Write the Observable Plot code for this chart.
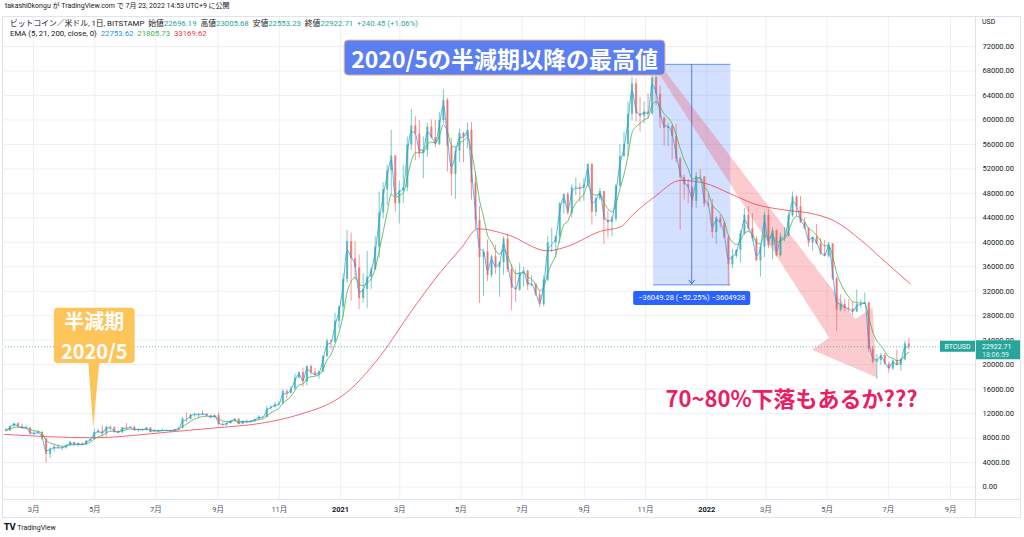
<!DOCTYPE html>
<html lang="ja">
<head>
<meta charset="utf-8">
<script src="https://cdn.jsdelivr.net/npm/d3@7"></script>
<script src="https://cdn.jsdelivr.net/npm/@observablehq/plot@0.6"></script>
<style>
html,body{margin:0;padding:0;background:#fff;}
body{font-family:Roboto,"Noto Sans CJK JP","Noto Sans",sans-serif;color:#131722;}
#wrap{position:relative;width:1024px;height:537px;overflow:hidden;background:#fff;}
#chart{position:absolute;left:0;top:0;width:1024px;height:537px;}
.ov{position:absolute;white-space:nowrap;line-height:1;}
.ln{position:absolute;background:#e0e3eb;}
</style>
</head>
<body>
<div id="wrap">
  <div id="chart"></div>
  <div class="ln" style="left:2px;top:16px;width:1019px;height:1px"></div>
  <div class="ln" style="left:2px;top:16px;width:1px;height:502px"></div>
  <div class="ln" style="left:1020px;top:16px;width:1px;height:502px"></div>
  <div class="ln" style="left:2px;top:517px;width:1019px;height:1px"></div>
  <div class="ln" style="left:975px;top:16px;width:1px;height:502px"></div>
  <div class="ln" style="left:2px;top:499px;width:1019px;height:1px"></div>
  <div class="ov" style="left:5px;top:3px;font-size:7px;">takashi0kongu が TradingView.com で 7月 23, 2022 14:53 UTC+9 に公開</div>
  <div class="ov" id="leg1" style="left:10px;top:20px;font-size:7.8px;"></div>
  <div class="ov" id="leg2" style="left:10px;top:30px;font-size:7.8px;"></div>
  <div class="ov" style="left:982px;top:19px;font-size:7px;color:#131722">USD</div>
  <div class="ov" style="left:4px;top:524px;font-size:7px;"><b style="font-family:'DejaVu Sans';font-weight:900;font-size:8px">TV</b> TradingView</div>
</div>
<script>
// ---------------- data (prices in thousand USD) ----------------
const startDate = "2020-02-01";
const stepDays = 4;
const firstOpen = 9.35;
const closes = [
  9.16, 9.9, 10.35, 9.9, 9.6, 9.65, 8.7, 8.75, 8.9, 7.9,
  5.36, 6.2, 6.5, 6.37, 6.42, 6.73, 7.3, 6.9, 7.1, 6.85,
  7.5, 7.78, 8.9, 9.15, 8.75, 9.8, 9.7, 9.05, 8.85, 9.7,
  9.65, 9.75, 9.3, 9.4, 9.3, 9.62, 9.0, 9.23, 9.07, 9.25,
  9.25, 9.15, 9.38, 9.55, 11.1, 11.05, 11.75, 11.9, 11.8, 11.95,
  11.7, 11.35, 11.7, 10.2, 10.15, 10.4, 10.8, 11.1, 10.25, 10.75,
  10.6, 10.8, 11.05, 11.4, 11.35, 12.8, 13.05, 13.45, 13.55, 15.6,
  15.3, 16.05, 17.8, 18.7, 17.15, 19.7, 18.65, 18.3, 18.8, 21.3,
  23.85, 23.7, 27.1, 29.4, 33.9, 40.1, 37.3, 35.8, 30.8, 32.3,
  34.3, 35.5, 39.2, 44.8, 48.6, 51.7, 54.1, 46.3, 48.4, 48.9,
  55.9, 59.0, 57.7, 54.5, 55.0, 58.8, 57.1, 56.0, 59.9, 63.2,
  55.7, 51.1, 54.9, 57.8, 57.2, 58.3, 49.7, 43.6, 37.5, 38.4,
  34.6, 37.6, 35.8, 36.7, 40.5, 35.6, 32.5, 32.2, 35.0, 35.3,
  32.9, 33.1, 31.4, 29.8, 33.8, 39.9, 39.9, 40.9, 46.3, 47.8,
  44.7, 48.9, 49.0, 48.8, 49.3, 52.7, 44.9, 47.1, 48.3, 43.6,
  43.2, 43.8, 49.2, 54.0, 56.0, 60.9, 65.9, 61.0, 60.6, 61.3,
  61.0, 66.9, 64.2, 60.3, 58.6, 58.9, 57.3, 53.6, 50.6, 49.4,
  48.9, 46.7, 50.8, 50.7, 46.2, 46.0, 41.6, 43.9, 43.1, 40.7,
  36.3, 37.7, 38.7, 41.4, 44.4, 42.2, 40.5, 37.0, 39.2, 44.4,
  39.4, 41.9, 37.8, 40.9, 41.0, 44.3, 47.4, 45.8, 43.2, 42.2,
  39.9, 40.8, 39.7, 38.1, 37.7, 39.7, 34.0, 28.9, 29.8, 29.2,
  29.1, 28.6, 29.8, 29.9, 30.1, 22.5, 20.4, 20.7, 21.5, 20.1,
  19.3, 20.6, 19.9, 20.8, 23.4, 22.9
];
const highs = [
  9.6, 9.95, 10.4, 10.5, 10.2, 10.0, 9.65, 9.0, 9.2, 9.1,
  7.95, 6.4, 6.9, 6.85, 6.6, 7.0, 7.45, 7.3, 7.2, 7.2,
  7.6, 7.8, 9.45, 9.4, 10.0, 9.9, 9.95, 9.85, 9.3, 9.7,
  10.4, 9.85, 9.95, 9.5, 9.55, 9.75, 9.7, 9.3, 9.3, 9.45,
  9.35, 9.3, 9.4, 9.7, 11.4, 12.1, 11.9, 12.1, 12.0, 12.45,
  12.0, 11.7, 11.7, 12.1, 10.6, 10.45, 10.8, 11.15, 11.1, 10.8,
  10.95, 10.8, 11.1, 11.7, 11.6, 13.2, 13.3, 13.85, 14.0, 15.95,
  15.9, 16.4, 18.45, 18.85, 19.45, 19.8, 19.9, 19.4, 18.9, 21.5,
  24.2, 24.1, 28.4, 29.6, 34.8, 41.9, 41.5, 40.1, 37.9, 34.9,
  38.5, 35.9, 40.9, 48.2, 49.7, 52.6, 58.3, 54.2, 50.0, 52.6,
  57.2, 61.7, 60.5, 59.9, 57.2, 59.4, 60.0, 59.9, 61.2, 64.9,
  63.5, 57.0, 55.5, 58.5, 58.0, 59.5, 59.6, 51.4, 45.8, 38.9,
  40.4, 37.9, 39.5, 36.8, 40.9, 41.3, 36.4, 35.5, 36.6, 35.9,
  35.4, 34.6, 33.2, 31.9, 34.5, 40.9, 42.3, 41.0, 46.5, 47.9,
  48.1, 49.4, 50.5, 49.6, 50.4, 52.9, 52.9, 47.3, 48.8, 48.3,
  45.1, 44.3, 49.5, 56.0, 58.0, 62.9, 67.0, 66.7, 63.7, 62.9,
  64.3, 68.5, 69.0, 65.5, 60.5, 59.5, 59.2, 59.2, 53.9, 51.0,
  50.3, 49.0, 51.4, 51.9, 50.7, 47.9, 47.0, 44.2, 44.4, 43.5,
  41.1, 38.9, 38.8, 41.9, 45.5, 45.8, 44.7, 40.9, 39.7, 44.9,
  45.4, 42.4, 42.0, 41.5, 42.4, 44.8, 48.2, 47.6, 47.5, 44.0,
  42.4, 40.9, 42.9, 40.6, 40.3, 40.0, 39.8, 34.3, 31.4, 30.7,
  30.6, 30.2, 32.2, 30.6, 31.7, 30.2, 23.0, 21.6, 21.8, 21.8,
  20.4, 20.8, 22.4, 21.0, 23.8, 24.3
];
const lows = [
  9.1, 9.15, 9.8, 9.7, 9.45, 9.5, 8.45, 8.4, 8.7, 7.6,
  3.9, 4.6, 5.7, 6.3, 5.9, 6.2, 6.7, 6.75, 6.5, 6.8,
  6.8, 7.45, 7.7, 8.7, 8.2, 8.2, 9.15, 8.8, 8.7, 8.8,
  9.3, 9.6, 9.1, 8.9, 9.2, 9.2, 8.85, 8.95, 8.95, 9.05,
  9.15, 9.05, 9.1, 9.3, 9.5, 10.6, 11.0, 11.4, 11.2, 11.7,
  11.5, 11.15, 11.1, 10.0, 9.9, 9.9, 10.25, 10.7, 10.15, 10.2,
  10.5, 10.4, 10.55, 11.0, 11.2, 11.3, 12.7, 12.9, 13.2, 13.5,
  14.4, 15.2, 15.8, 17.7, 16.3, 16.5, 18.2, 18.1, 17.6, 18.7,
  21.2, 22.4, 23.5, 25.9, 27.7, 33.3, 30.4, 33.8, 29.0, 30.0,
  29.2, 32.3, 35.4, 37.4, 43.8, 46.0, 47.6, 44.9, 43.0, 46.3,
  48.3, 55.0, 53.3, 53.7, 50.4, 53.9, 56.8, 55.5, 55.8, 59.4,
  51.5, 47.5, 47.0, 53.0, 53.0, 55.3, 46.9, 42.1, 30.0, 31.1,
  33.6, 34.2, 34.8, 31.0, 34.6, 35.1, 28.8, 30.2, 32.0, 32.7,
  32.1, 32.7, 31.1, 29.3, 29.5, 33.6, 38.3, 37.5, 39.8, 44.6,
  44.4, 44.0, 47.6, 46.5, 46.7, 49.0, 42.8, 44.2, 46.8, 39.6,
  40.8, 40.9, 43.3, 49.0, 53.9, 54.0, 59.8, 59.6, 58.0, 59.4,
  60.1, 60.8, 62.3, 58.6, 55.7, 55.6, 53.5, 53.0, 42.0, 46.9,
  46.3, 45.6, 45.5, 49.9, 45.7, 45.7, 40.6, 39.7, 42.3, 40.6,
  32.9, 35.7, 37.4, 36.6, 41.1, 41.8, 40.1, 36.8, 34.3, 37.5,
  39.0, 37.2, 37.6, 37.6, 40.1, 40.9, 44.1, 44.2, 43.1, 42.1,
  39.2, 38.6, 39.6, 37.8, 37.6, 37.4, 33.7, 25.4, 28.6, 28.7,
  28.6, 28.0, 28.5, 29.2, 29.8, 22.0, 20.1, 17.6, 19.9, 19.9,
  18.6, 19.0, 19.8, 18.9, 20.6, 22.4
];
// EMA 200
const ema200Dates = ["2020-02-01","2020-04-30","2020-06-26","2020-07-15","2020-09-01","2020-10-13","2020-11-22","2020-12-25","2021-01-01","2021-02-10","2021-03-12","2021-04-11","2021-05-01","2021-05-18","2021-06-17","2021-07-26","2021-08-15","2021-09-17","2021-10-07","2021-10-20","2021-11-09","2021-12-06","2021-12-29","2022-01-25","2022-02-17","2022-03-23","2022-04-12","2022-05-08","2022-06-04","2022-06-30","2022-07-23"];
const ema200Values = [8.6, 8.05, 8.7, 9.0, 9.7, 10.4, 11.9, 14.0, 14.7, 21.5, 28.6, 35.2, 39.0, 42.2, 41.2, 38.6, 39.3, 41.8, 42.5, 44.6, 47.3, 50.1, 49.7, 47.9, 46.3, 45.2, 44.8, 43.5, 40.3, 36.5, 33.2];
const ema21Seed = 9.3;
const priceTicks = [0, 4, 8, 12, 16, 20, 24, 28, 32, 36, 40, 44, 48, 52, 56, 60, 64, 68, 72];
const timeTicks = ["2020-03-01","2020-05-01","2020-07-01","2020-09-01","2020-11-01","2021-01-01","2021-03-01","2021-05-01","2021-07-01","2021-09-01","2021-11-01","2022-01-01","2022-03-01","2022-05-01","2022-07-01","2022-09-01"];
const timeLabels = ["3月","5月","7月","9月","11月","2021","3月","5月","7月","9月","11月","2022","3月","5月","7月","9月"];
const currentPrice = 22.92271;
const legendTitle = "ビットコイン／米ドル, 1日, BITSTAMP";
const legendNames = ["始値","高値","安値","終値"];
const legendOHLC = ["22696.19","23005.68","22553.23","22922.71"];
const legendChange = "+240.45 (+1.06%)";
const emaLegendTitle = "EMA (5, 21, 200, close, 0)";
const emaLegendValues = ["22753.62","21805.73","33169.62"];
// annotations (data coordinates)
const measureRange = ["2021-11-09", "2022-01-25"];
const measurePrices = [69.0, 32.95];
const measureText = "−36049.28 (−52.25%) −3604928";
const arrowTail = ["2021-11-16", 68.1];
const arrowTip = ["2022-06-20", 17.8];
const titleText = "2020/5の半減期以降の最高値";
const titlePos = ["2021-06-14", 70.1];
const halvingLines = ["半減期", "2020/5"];
const halvingDate = "2020-05-01";
const halvingPrices = [27.1, 22.3];   // text line centres
const halvingBox = [29.2, 20.2];       // top, bottom
const halvingTip = 9.6;
const questionText = "70~80%下落もあるか???";
const questionPos = ["2022-03-27", 14.6];

// ---------------- build ----------------
const upColor = "#26a69a", downColor = "#ef5350";
const DAY = 864e5;
const t0 = Date.parse(startDate + "T00:00:00Z");
const candles = closes.map((c, i) => {
  const open = i === 0 ? firstOpen : closes[i - 1];
  return {date: new Date(t0 + (i * stepDays + 1.5) * DAY), open, close: c, high: highs[i], low: lows[i], up: c >= open};
});
function ema(vals, period, seed) {
  const a = 1 - Math.pow(1 - 2 / (period + 1), stepDays);
  let e = seed;
  return vals.map(v => (e += a * (v - e)));
}
const ema5 = ema(closes, 5, firstOpen);
const ema21 = ema(closes, 21, ema21Seed);
const ema200Rows = ema200Dates.map((d, i) => ({date: new Date(d + "T00:00:00Z"), value: ema200Values[i]}));
const tickRows = timeTicks.map((t, i) => ({date: new Date(t + "T00:00:00Z"), label: timeLabels[i], year: !timeLabels[i].includes("月")}));
const labelOf = new Map(tickRows.map(r => [+r.date, r.label]));
const FONT = 'Roboto, "Noto Sans CJK JP", sans-serif';
const CJK = '"Noto Sans CJK JP", "Noto Sans", sans-serif';

const plot = Plot.plot({
  width: 1024, height: 537,
  marginTop: 16, marginRight: 49, marginBottom: 38, marginLeft: 2,
  x: {type: "utc", domain: [new Date("2020-01-30T01:00:00Z"), new Date("2022-09-25T21:00:00Z")]},
  y: {domain: [-2.04, 76.9]},
  color: {type: "identity"},
  style: {fontFamily: FONT, fontSize: "7.5px", color: "#131722", background: "transparent", overflow: "visible"},
  marks: [
    Plot.gridX(tickRows.map(r => r.date), {stroke: "#eef0f4", strokeOpacity: 1}),
    Plot.gridY(priceTicks, {stroke: "#eef0f4", strokeOpacity: 1}),
    Plot.ruleX(candles, {x: "date", y1: "low", y2: "high", stroke: d => d.up ? upColor : downColor, strokeWidth: 1, strokeOpacity: 0.6}),
    Plot.ruleX(candles, {x: "date", y1: "open", y2: "close", stroke: d => d.up ? upColor : downColor, strokeWidth: 2.2, strokeOpacity: 0.6}),
    Plot.line(ema200Rows, {x: "date", y: "value", stroke: "#f23645", strokeWidth: 1, strokeOpacity: 0.75, curve: "monotone-x"}),
    Plot.line(candles, {x: "date", y: (d, i) => ema21[i], stroke: "#4caf50", strokeWidth: 1, strokeOpacity: 0.8, curve: "monotone-x"}),
    Plot.line(candles, {x: "date", y: (d, i) => ema5[i], stroke: "#2196f3", strokeWidth: 1, strokeOpacity: 0.75, curve: "monotone-x"}),
    Plot.ruleY([currentPrice], {stroke: "#26a69a", strokeDasharray: "1,2", strokeOpacity: 0.7}),
    Plot.axisY(priceTicks, {anchor: "right", tickSize: 0, tickPadding: 7, tickFormat: d => (d * 1000).toFixed(2), label: null, fill: "#131722"}),
    Plot.axisX(tickRows.filter(r => !r.year).map(r => r.date), {anchor: "bottom", tickSize: 0, tickPadding: 7, tickFormat: d => labelOf.get(+d), label: null, fill: "#50535e"}),
    Plot.axisX(tickRows.filter(r => r.year).map(r => r.date), {anchor: "bottom", tickSize: 0, tickPadding: 7, tickFormat: d => labelOf.get(+d), label: null, fill: "#131722", fontWeight: "bold"})
  ]
});
document.getElementById("chart").appendChild(plot);

// ---------------- annotations through the plot's scales ----------------
const xs = plot.scale("x"), ys = plot.scale("y");
const X = d => xs.apply(new Date(d + "T00:00:00Z"));
const Y = v => ys.apply(v);
const NS = "http://www.w3.org/2000/svg";
const firstRule = plot.querySelector('g[aria-label="rule"]');
const backNode = document.createElementNS(NS, "g");
if (firstRule) plot.insertBefore(backNode, firstRule); else plot.appendChild(backNode);
const back = d3.select(backNode);
const front = d3.select(plot).append("g").attr("text-anchor", "start");

// measurement box
const mx0 = X(measureRange[0]), mx1 = X(measureRange[1]);
const my0 = Y(measurePrices[0]), my1 = Y(measurePrices[1]);
back.append("rect").attr("x", mx0).attr("y", my0).attr("width", mx1 - mx0).attr("height", my1 - my0)
  .attr("fill", "#2962ff").attr("fill-opacity", 0.2);
[my0, my1].forEach(y => back.append("line").attr("x1", mx0).attr("x2", mx1).attr("y1", y).attr("y2", y)
  .attr("stroke", "#2962ff").attr("stroke-opacity", 0.7));
const mmx = (mx0 + mx1) / 2;
back.append("line").attr("x1", mmx).attr("x2", mmx).attr("y1", my0).attr("y2", my1 - 1).attr("stroke", "#2962ff").attr("stroke-opacity", 0.8);
back.append("path").attr("d", `M${mmx - 3},${my1 - 5}L${mmx},${my1 - 1}L${mmx + 3},${my1 - 5}`).attr("fill", "none").attr("stroke", "#2962ff");

// pink arrow
{
  const tx = X(arrowTail[0]), ty = Y(arrowTail[1]);
  const hx = X(arrowTip[0]), hy = Y(arrowTip[1]);
  const L = Math.hypot(hx - tx, hy - ty), ux = (hx - tx) / L, uy = (hy - ty) / L, nx = -uy, ny = ux;
  const headLen = 60, headHalf = 37, tailHalf = 3, baseHalf = 16;
  const bx = hx - ux * headLen, by = hy - uy * headLen;
  const pts = [
    [tx + nx * tailHalf, ty + ny * tailHalf],
    [bx + nx * baseHalf, by + ny * baseHalf],
    [bx + nx * headHalf, by + ny * headHalf],
    [hx, hy],
    [bx - nx * headHalf, by - ny * headHalf],
    [bx - nx * baseHalf, by - ny * baseHalf],
    [tx - nx * tailHalf, ty - ny * tailHalf]
  ];
  back.append("polygon").attr("points", pts.map(p => p.join(",")).join(" "))
    .attr("fill", "#f23645").attr("fill-opacity", 0.26);
}

// measurement label
{
  const g = front.append("g");
  const t = g.append("text").attr("x", mmx).attr("y", my1 + 13).attr("text-anchor", "middle").attr("dominant-baseline", "central")
    .attr("font-size", 7.5).attr("fill", "#fff").attr("font-family", FONT).text(measureText);
  const bb = t.node().getBBox();
  g.insert("rect", "text").attr("x", bb.x - 5).attr("y", my1 + 6).attr("width", bb.width + 10).attr("height", 14)
    .attr("rx", 2).attr("fill", "#2962ff");
}

// title box
{
  const cx = X(titlePos[0]), cy = Y(titlePos[1]);
  const g = front.append("g");
  const t = g.append("text").attr("x", cx).attr("y", cy).attr("text-anchor", "middle").attr("dominant-baseline", "central")
    .attr("font-size", 23).attr("font-weight", "bold").attr("fill", "#fff").attr("font-family", CJK).text(titleText);
  const bb = t.node().getBBox();
  g.insert("rect", "text").attr("x", bb.x - 7).attr("y", cy - 17.5).attr("width", bb.width + 14).attr("height", 35)
    .attr("rx", 4).attr("fill", "#5b7ff0").attr("stroke", "#f2b48f").attr("stroke-width", 1);
}

// halving callout (one text element, two lines)
{
  const cx = X(halvingDate);
  const g = front.append("g");
  const t = g.append("text").attr("text-anchor", "middle").attr("font-size", 20).attr("font-weight", "bold")
    .attr("fill", "#fff").attr("font-family", CJK);
  halvingLines.forEach((s, i) => t.append("tspan").attr("x", cx).attr("y", Y(halvingPrices[i]))
    .attr("dominant-baseline", "central").text(s));
  const w = t.node().getBBox().width + 14;
  const top = Y(halvingBox[0]), bot = Y(halvingBox[1]);
  g.insert("path", "text").attr("d", `M${cx - 6},${bot - 1}L${cx + 5},${bot - 1}L${cx - 1},${Y(halvingTip)}Z`).attr("fill", "#fdc45a");
  g.insert("rect", "text").attr("x", cx - w / 2).attr("y", top).attr("width", w).attr("height", bot - top)
    .attr("rx", 4).attr("fill", "#fdc45a");
}

// question text
front.append("text").attr("x", X(questionPos[0])).attr("y", Y(questionPos[1])).attr("text-anchor", "middle")
  .attr("dominant-baseline", "central").attr("font-size", 22).attr("font-weight", "bold").attr("fill", "#e91e63")
  .attr("font-family", CJK).text(questionText);

// current price tags
{
  const cy = Y(currentPrice);
  const g = front.append("g").attr("font-family", FONT).attr("font-size", 7).attr("text-anchor", "start");
  g.append("rect").attr("x", 940).attr("y", cy - 5.5).attr("width", 35).attr("height", 11).attr("fill", "#26a69a");
  g.append("text").attr("x", 957.5).attr("y", cy + 0.5).attr("text-anchor", "middle").attr("dominant-baseline", "central").attr("fill", "#fff").text("BTCUSD");
  g.append("rect").attr("x", 976).attr("y", cy - 6).attr("width", 44).attr("height", 19).attr("fill", "#26a69a");
  const pt = g.append("text").attr("fill", "#fff");
  pt.append("tspan").attr("x", 982).attr("y", cy + 0.3).attr("dominant-baseline", "central").text((currentPrice * 1000).toFixed(2));
  pt.append("tspan").attr("x", 982).attr("y", cy + 8.3).attr("dominant-baseline", "central").attr("fill-opacity", 0.85).text("18:06:59");
}

// legend lines
{
  const leg1 = document.getElementById("leg1");
  let h = `<span>${legendTitle}</span>&nbsp;&nbsp;`;
  legendNames.forEach((n, i) => { h += `<span>${n}</span><span style="color:#26a69a">${legendOHLC[i]}</span>&nbsp;&nbsp;`; });
  h += `<span style="color:#26a69a">${legendChange}</span>`;
  leg1.innerHTML = h;
  const cols = ["#2196f3", "#4caf50", "#f23645"];
  document.getElementById("leg2").innerHTML = `<span>${emaLegendTitle}</span>&nbsp;&nbsp;` +
    emaLegendValues.map((v, i) => `<span style="color:${cols[i]}">${v}</span>`).join("&nbsp;&nbsp;");
}
</script>
</body>
</html>
